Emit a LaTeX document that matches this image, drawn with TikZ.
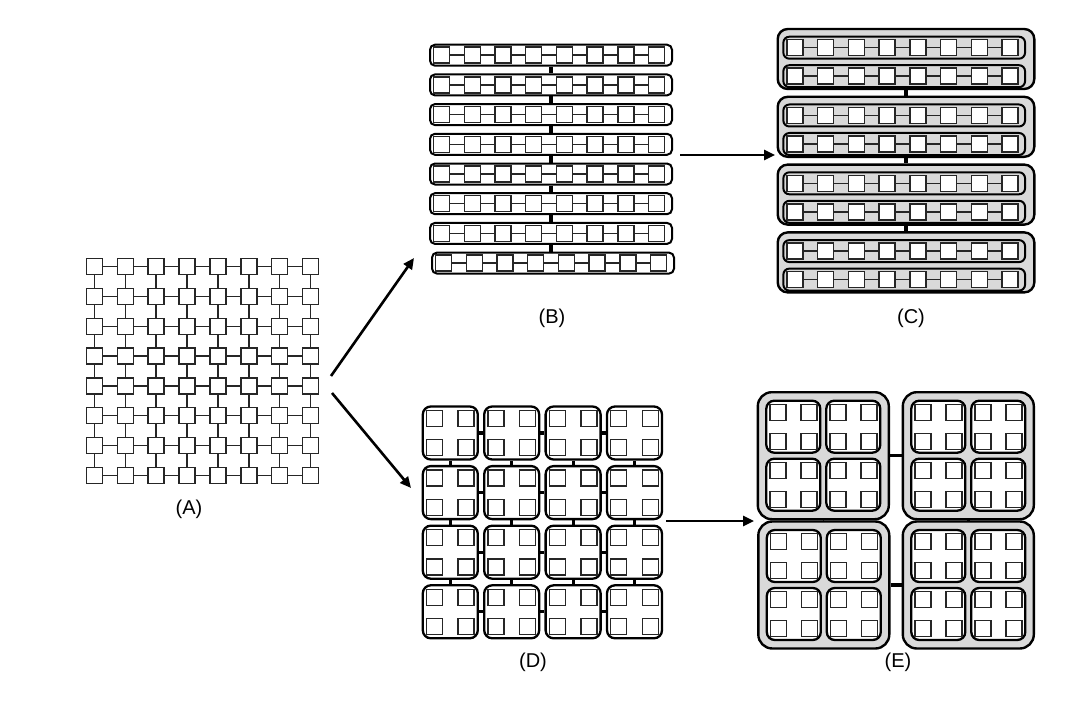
\documentclass[tikz,border=0pt]{standalone}
\usepackage{fontspec}
\setmainfont{Liberation Sans}
\usetikzlibrary{arrows.meta}
\definecolor{grp}{RGB}{217,217,217}
\begin{document}
\begin{tikzpicture}[x=1pt,y=-1pt,
  sq/.style={draw=black!85,fill=white,line width=1.4pt,minimum size=16pt,inner sep=0pt},
  thinlink/.style={draw=black!85,line width=1.4pt},
  thicklink/.style={draw=black,line width=3.2pt},
  rowbox/.style={draw=black,rounded corners=5pt,line width=2pt,minimum width=242pt,minimum height=21pt,inner sep=0pt},
  crow/.style={draw=black,fill=grp,rounded corners=6pt,line width=2pt,minimum width=241.7pt,minimum height=22pt,inner sep=0pt},
  cgroup/.style={draw=black,fill=grp,rounded corners=10pt,line width=2.4pt,minimum width=256.6pt,minimum height=60pt,inner sep=0pt},
  dblock/.style={draw=black,fill=white,rounded corners=8pt,line width=2.3pt,minimum width=55pt,minimum height=53pt,inner sep=0pt},
  eblock/.style={draw=black,fill=white,rounded corners=8pt,line width=2.3pt,minimum width=54pt,minimum height=52pt,inner sep=0pt},
  egroup/.style={draw=black,fill=grp,rounded corners=14pt,line width=2.4pt,minimum width=131pt,minimum height=127pt,inner sep=0pt},
  bigarrow/.style={draw=black,line width=2.6pt,-{Triangle[length=11pt,width=10pt]}},
  lbl/.style={font=\fontsize{20}{24}\selectfont,inner sep=0pt}
]
\useasboundingbox (0,0) rectangle (1092,706);

% ---------- (A) grid ----------
\foreach \i in {0,...,7}{
  \foreach \j in {0,...,7}{
    \node[sq] (A-\i-\j) at ({94.3+30.9*\i},{266.6+29.8*\j}) {};
  }
}
\foreach \i [evaluate=\i as \k using int(\i+1)] in {0,...,6}{
  \foreach \j in {0,...,7}{
    \draw[thinlink] (A-\i-\j) -- (A-\k-\j);
    \draw[thinlink] (A-\j-\i) -- (A-\j-\k);
  }
}
\node[lbl] (lblA) at (189,509) {(A)};

% ---------- (B) rows ----------
\foreach \r in {0,...,6}{
  \node[rowbox] (B-\r) at (551,{55.2+29.7*\r}) {};
  \foreach \i in {0,...,7}{
    \node[sq] (B-\r-\i) at ({441.6+30.7*\i},{55.2+29.7*\r}) {};
  }
}
\node[rowbox] (B-7) at (553,{55.2+29.7*7}) {};
\foreach \i in {0,...,7}{
  \node[sq] (B-7-\i) at ({443.6+30.7*\i},{55.2+29.7*7}) {};
}
\foreach \r in {0,...,7}{
  \foreach \i [evaluate=\i as \k using int(\i+1)] in {0,...,6}{
    \draw[thinlink] (B-\r-\i) -- (B-\r-\k);
  }
}
\foreach \r [evaluate=\r as \k using int(\r+1)] in {0,...,6}{
  \draw[thicklink] (B-\r.south) -- (B-\r.south |- B-\k.north);
}
\node[lbl] (lblB) at (552,318) {(B)};

% ---------- (C) ----------
\foreach \g in {0,...,3}{
  \node[cgroup] (C-\g) at (906,{59+67.8*\g}) {};
  \foreach \r in {0,1}{
    \node[crow] (C-\g-\r) at (904.2,{47.7+67.8*\g+28.5*\r}) {};
    \foreach \i in {0,...,7}{
      \node[sq] (C-\g-\r-\i) at ({795+30.7*\i},{47.7+67.8*\g+28.5*\r}) {};
    }
    \foreach \i [evaluate=\i as \k using int(\i+1)] in {0,...,6}{
      \draw[thinlink] (C-\g-\r-\i) -- (C-\g-\r-\k);
    }
  }
}
\foreach \g [evaluate=\g as \k using int(\g+1)] in {0,1,2}{
  \draw[thicklink] (C-\g.south) -- (C-\k.north);
}
\node[lbl] (lblC) at (911,318) {(C)};

% ---------- (D) ----------
\foreach \c in {0,...,3}{
  \foreach \r in {0,...,3}{
    \node[dblock] (D-\c-\r) at ({450.3+61.4*\c},{433+59.6*\r}) {};
    \node[sq] (D-\c-\r-a) at ({450.3+61.4*\c-15.8},{433+59.6*\r-14.6}) {};
    \node[sq] (D-\c-\r-b) at ({450.3+61.4*\c+15.8},{433+59.6*\r-14.6}) {};
    \node[sq] (D-\c-\r-c) at ({450.3+61.4*\c-15.8},{433+59.6*\r+14.6}) {};
    \node[sq] (D-\c-\r-d) at ({450.3+61.4*\c+15.8},{433+59.6*\r+14.6}) {};
  }
}
\foreach \a [evaluate=\a as \k using int(\a+1)] in {0,1,2}{
  \foreach \b in {0,...,3}{
    \draw[thicklink] (D-\a-\b.east) -- (D-\k-\b.west);
    \draw[thicklink] (D-\b-\a.south) -- (D-\b-\k.north);
  }
}
\node[lbl] (lblD) at (533,662) {(D)};

% ---------- (E) ----------
\foreach \g/\x/\y in {0-0/823.3/455.7, 1-0/968.3/455.7, 0-1/823.8/585, 1-1/968.3/585}{
  \node[egroup] (E-\g) at (\x,\y) {};
  \foreach \c/\dx in {0/-30,1/30}{
    \foreach \r/\dy in {0/-29,1/29}{
      \node[eblock] (E-\g-\c-\r) at ({\x+\dx},{\y+\dy}) {};
      \node[sq] (E-\g-\c-\r-a) at ({\x+\dx-15.5},{\y+\dy-14.5}) {};
      \node[sq] (E-\g-\c-\r-b) at ({\x+\dx+15.5},{\y+\dy-14.5}) {};
      \node[sq] (E-\g-\c-\r-c) at ({\x+\dx-15.5},{\y+\dy+14.5}) {};
      \node[sq] (E-\g-\c-\r-d) at ({\x+\dx+15.5},{\y+\dy+14.5}) {};
    }
  }
}
\draw[thicklink] (E-0-0.east) -- (E-1-0.west);
\draw[thicklink] (E-0-1.east) -- (E-1-1.west);
\draw[thicklink] (E-0-0.south) -- (E-0-1.north);
\draw[thicklink] (E-1-0.south) -- (E-1-1.north);
\node[lbl] (lblE) at (898,662) {(E)};

% ---------- arrows ----------
\coordinate (a1s) at (331,376);
\coordinate (a1e) at (414,258);
\coordinate (a2s) at (332,393);
\coordinate (a2e) at (411,488);
\coordinate (bcs) at (680,155);
\coordinate (bce) at (775,155);
\coordinate (des) at (666,521);
\coordinate (dee) at (754,521);
\draw[bigarrow] (a1s) -- (a1e);
\draw[bigarrow] (a2s) -- (a2e);
\draw[bigarrow] (bcs) -- (bce);
\draw[bigarrow] (des) -- (dee);
\end{tikzpicture}
\end{document}
